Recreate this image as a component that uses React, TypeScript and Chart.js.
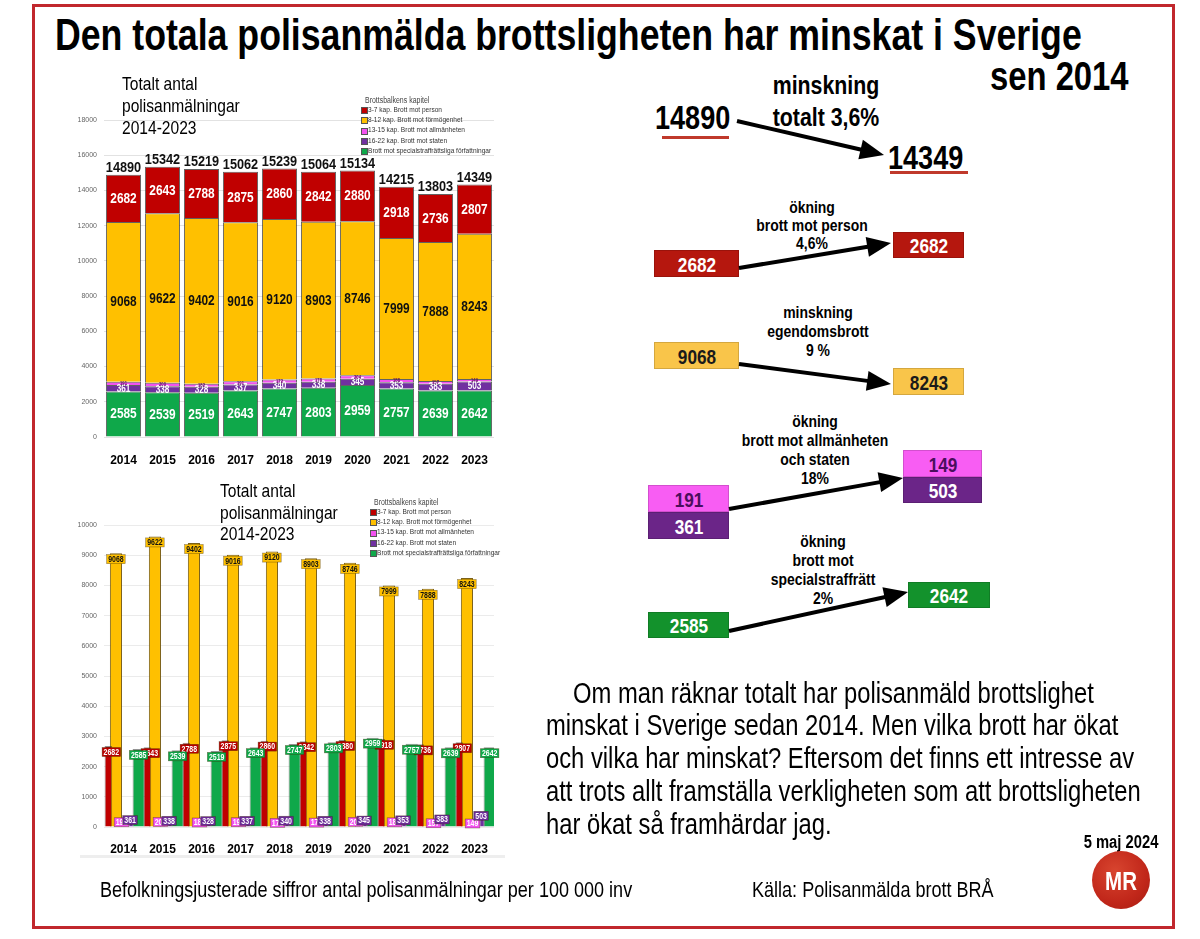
import React, { useEffect, useRef } from "react";
import { Chart, registerables } from "chart.js";

Chart.register(...registerables);

// ---------- data ----------
const years = ["2014", "2015", "2016", "2017", "2018", "2019", "2020", "2021", "2022", "2023"];
const personCrimes = [2682, 2643, 2788, 2875, 2860, 2842, 2880, 2918, 2736, 2807];
const propertyCrimes = [9068, 9622, 9402, 9016, 9120, 8903, 8746, 7999, 7888, 8243];
const publicCrimes = [191, 200, 182, 191, 172, 178, 204, 188, 157, 149];
const stateCrimes = [361, 338, 328, 337, 340, 338, 345, 353, 383, 503];
const specialCrimes = [2585, 2539, 2519, 2643, 2747, 2803, 2959, 2757, 2639, 2642];
const totals = [14890, 15342, 15219, 15062, 15239, 15064, 15134, 14215, 13803, 14349];
const seriesNames = [
  "3-7 kap. Brott mot person",
  "8-12 kap. Brott mot förmögenhet",
  "13-15 kap. Brott mot allmänheten",
  "16-22 kap. Brott mot staten",
  "Brott mot specialstraffrättsliga författningar",
];
const seriesColors = ["#C00000", "#FFC000", "#F252F0", "#7030A0", "#0FA84A"];
const legendTitle = "Brottsbalkens kapitel";
const stackedMax = 18000;
const stackedStep = 2000;
const groupedMax = 10000;
const groupedStep = 1000;

const SANS = '"Liberation Sans", Arial, Helvetica, sans-serif';
const NARROW = '"Liberation Sans Narrow", "Arial Narrow", "Liberation Sans", Arial, sans-serif';

// ---------- canvas helpers ----------
function narrowText(ctx: CanvasRenderingContext2D, text: string, x: number, y: number, font: string, color: string) {
  ctx.save();
  ctx.font = font;
  ctx.fillStyle = color;
  ctx.textAlign = "center";
  ctx.textBaseline = "middle";
  ctx.translate(x, y);
  ctx.scale(0.82, 1);
  ctx.fillText(text, 0, 0);
  ctx.restore();
}

// stacked order bottom -> top
const stackSeries = [
  { idx: 4, data: specialCrimes, size: 14.5, color: "#ffffff" },
  { idx: 3, data: stateCrimes, size: 10, color: "#ffffff" },
  { idx: 2, data: publicCrimes, size: 5, color: "#5a1060" },
  { idx: 1, data: propertyCrimes, size: 14.5, color: "#111111" },
  { idx: 0, data: personCrimes, size: 14.5, color: "#ffffff" },
];

const stackLabelPlugin = {
  id: "stackLabels",
  afterDatasetsDraw(chart: any) {
    const ctx = chart.ctx as CanvasRenderingContext2D;
    chart.data.datasets.forEach((ds: any, di: number) => {
      const meta = chart.getDatasetMeta(di);
      const st = stackSeries[di];
      meta.data.forEach((bar: any, i: number) => {
        const p = bar.getProps(["x", "y", "base"], true);
        narrowText(ctx, String(ds.data[i]), p.x, (p.y + p.base) / 2 + 0.5, `bold ${st.size}px ${SANS}`, st.color);
      });
    });
    const topMeta = chart.getDatasetMeta(chart.data.datasets.length - 1);
    topMeta.data.forEach((bar: any, i: number) => {
      narrowText(ctx, String(totals[i]), bar.x, bar.y - 7, `bold 15.5px ${SANS}`, "#111111");
    });
  },
};

const groupSeries = [
  { data: personCrimes, bp: 1.0, bg: "#B80000", fg: "#ffffff", dx: 3, dy: 6 },
  { data: propertyCrimes, bp: 1.6, bg: "#FFC000", fg: "#111111", dx: 0, dy: 6 },
  { data: publicCrimes, bp: 0.7, bg: "#F252F0", fg: "#ffffff", dx: -2, dy: 1 },
  { data: stateCrimes, bp: 0.7, bg: "#6A2A96", fg: "#ffffff", dx: -1, dy: 4 },
  { data: specialCrimes, bp: 1.6, bg: "#0FA84A", fg: "#ffffff", dx: 0, dy: 6 },
];

const groupLabelPlugin = {
  id: "groupLabels",
  afterDatasetsDraw(chart: any) {
    const ctx = chart.ctx as CanvasRenderingContext2D;
    chart.data.datasets.forEach((ds: any, di: number) => {
      const meta = chart.getDatasetMeta(di);
      const st = groupSeries[di];
      meta.data.forEach((bar: any, i: number) => {
        const text = String(ds.data[i]);
        const font = `bold 8.5px ${SANS}`;
        ctx.font = font;
        const tw = ctx.measureText(text).width * 0.82;
        const w = tw + 3;
        const h = 9;
        const cx = bar.x + st.dx;
        const cy = bar.y + st.dy;
        ctx.fillStyle = st.bg;
        ctx.fillRect(cx - w / 2, cy - h / 2, w, h);
        ctx.strokeStyle = "rgba(60,40,0,0.55)";
        ctx.lineWidth = 0.6;
        ctx.strokeRect(cx - w / 2, cy - h / 2, w, h);
        narrowText(ctx, text, cx, cy + 0.5, font, st.fg);
      });
    });
  },
};

const plainTick = (v: any) => String(v);

function buildStacked(canvas: HTMLCanvasElement) {
  return new Chart(canvas, {
    type: "bar",
    data: {
      labels: years,
      datasets: stackSeries.map((s) => ({
        label: seriesNames[s.idx],
        data: s.data,
        backgroundColor: seriesColors[s.idx],
        borderColor: "rgba(45,45,45,0.75)",
        borderWidth: 1,
      })),
    },
    options: {
      animation: false,
      responsive: false,
      layout: { padding: { left: 0, right: 16, top: 60, bottom: 0 } },
      plugins: { legend: { display: false }, tooltip: { enabled: false } },
      datasets: { bar: { categoryPercentage: 0.9, barPercentage: 1 } },
      scales: {
        x: {
          stacked: true,
          grid: { display: false },
          border: { display: false },
          ticks: { color: "#000", padding: 8, font: { family: NARROW, size: 12, weight: "bold" } },
          afterFit(s: any) { s.height = 33; },
        },
        y: {
          stacked: true,
          min: 0,
          max: stackedMax,
          ticks: { stepSize: stackedStep, color: "#666", padding: 7, font: { family: NARROW, size: 7 }, callback: plainTick },
          grid: { color: "#e2e2e2", drawTicks: false },
          border: { display: false },
          afterFit(s: any) { s.width = 44; },
        },
      },
    } as any,
    plugins: [stackLabelPlugin],
  });
}

function buildGrouped(canvas: HTMLCanvasElement) {
  return new Chart(canvas, {
    type: "bar",
    data: {
      labels: years,
      datasets: groupSeries.map((s, i) => ({
        label: seriesNames[i],
        data: s.data,
        backgroundColor: seriesColors[i],
        borderColor: i === 1 ? "rgba(110,80,0,0.9)" : "rgba(40,40,40,0.5)",
        borderWidth: 1,
        barPercentage: s.bp,
        categoryPercentage: 0.97,
      })),
    },
    options: {
      animation: false,
      responsive: false,
      layout: { padding: { left: 0, right: 16, top: 45, bottom: 0 } },
      plugins: { legend: { display: false }, tooltip: { enabled: false } },
      scales: {
        x: {
          grid: { display: false },
          border: { display: false },
          ticks: { color: "#000", padding: 7, font: { family: NARROW, size: 12, weight: "bold" } },
          afterFit(s: any) { s.height = 33; },
        },
        y: {
          min: 0,
          max: groupedMax,
          ticks: { stepSize: groupedStep, color: "#666", padding: 7, font: { family: NARROW, size: 7 }, callback: plainTick },
          grid: { color: "#ebebeb", drawTicks: false },
          border: { display: false },
          afterFit(s: any) { s.width = 44; },
        },
      },
    } as any,
    plugins: [groupLabelPlugin],
  });
}

function ChartCanvas(props: { build: (c: HTMLCanvasElement) => Chart; left: number; top: number; width: number; height: number }) {
  const ref = useRef<HTMLCanvasElement>(null);
  useEffect(() => {
    const chart = props.build(ref.current as HTMLCanvasElement);
    return () => chart.destroy();
  }, []);
  return (
    <canvas
      ref={ref}
      width={props.width}
      height={props.height}
      style={{ position: "absolute", left: props.left, top: props.top, width: props.width, height: props.height }}
    />
  );
}

// ---------- html helpers ----------
type TP = {
  x: number; y: number; size: number; children: React.ReactNode;
  bold?: boolean; color?: string; align?: "left" | "center" | "right"; sx?: number;
};
function T({ x, y, size, children, bold = false, color = "#000", align = "left", sx = 0.82 }: TP) {
  const shift = align === "left" ? "0" : align === "center" ? "-50%" : "-100%";
  const origin = align === "left" ? "left center" : align === "center" ? "center center" : "right center";
  return (
    <div
      style={{
        position: "absolute", left: x, top: y - size * 0.6, fontFamily: SANS, fontSize: size,
        lineHeight: `${size * 1.2}px`, fontWeight: bold ? 700 : 400, color, whiteSpace: "nowrap",
        transformOrigin: origin, transform: `translateX(${shift}) scaleX(${sx})`,
      }}
    >
      {children}
    </div>
  );
}

function Box(p: { x: number; y: number; w: number; h: number; bg: string; fg: string; text: string }) {
  return (
    <div style={{ position: "absolute", left: p.x, top: p.y, width: p.w, height: p.h, background: p.bg, boxShadow: "inset 0 0 0 1px rgba(0,0,0,0.15)" }}>
      <T x={p.w / 2} y={p.h / 2 + 1} size={21} bold color={p.fg} align="center">{p.text}</T>
    </div>
  );
}

function Arrow(p: { x1: number; y1: number; x2: number; y2: number }) {
  const dx = p.x2 - p.x1, dy = p.y2 - p.y1;
  const len = Math.hypot(dx, dy);
  const ux = dx / len, uy = dy / len;
  const hl = 24, hw = 10;
  const bx = p.x2 - ux * hl, by = p.y2 - uy * hl;
  const px = -uy, py = ux;
  return (
    <g>
      <line x1={p.x1} y1={p.y1} x2={bx + ux * 2} y2={by + uy * 2} stroke="#000" strokeWidth={4} />
      <polygon points={`${p.x2},${p.y2} ${bx + px * hw},${by + py * hw} ${bx - px * hw},${by - py * hw}`} fill="#000" />
    </g>
  );
}

function Legend(p: { x: number; y: number }) {
  return (
    <>
      <T x={p.x + 4} y={p.y} size={8.5} color="#444">{legendTitle}</T>
      {seriesNames.map((n, i) => (
        <React.Fragment key={n}>
          <div style={{ position: "absolute", left: p.x, top: p.y + 7 + i * 10.3, width: 5, height: 5, background: seriesColors[i], border: "0.5px solid #555" }} />
          <T x={p.x + 7} y={p.y + 9.5 + i * 10.3} size={8} color="#333">{n}</T>
        </React.Fragment>
      ))}
    </>
  );
}

const RED_BOX = "#B5170E";
const YELLOW_BOX = "#F9C54A";
const PINK_BOX = "#F85DF3";
const PURPLE_BOX = "#6B2588";
const GREEN_BOX = "#13922C";

export default function App() {
  return (
    <div style={{ position: "absolute", left: 0, top: 0, width: 1200, height: 939, background: "#fff", overflow: "hidden" }}>
      <div style={{ position: "absolute", left: 32, top: 4, width: 1137, height: 919, border: "3px solid #C1272D" }} />

      <T x={55} y={35} size={43.5} bold>Den totala polisanmälda brottsligheten har minskat i Sverige</T>
      <T x={990} y={76} size={40} bold>sen 2014</T>

      {/* top chart */}
      <ChartCanvas build={buildStacked} left={60} top={60} width={450} height={410} />
      <T x={122} y={84} size={19}>Totalt antal</T>
      <T x={122} y={106} size={19}>polisanmälningar</T>
      <T x={122} y={128} size={19}>2014-2023</T>
      <Legend x={361} y={100} />

      {/* bottom chart */}
      <ChartCanvas build={buildGrouped} left={60} top={480} width={450} height={380} />
      <div style={{ position: "absolute", left: 80, top: 855, width: 425, height: 3, background: "#eeeeee" }} />
      <T x={220} y={491} size={19}>Totalt antal</T>
      <T x={220} y={513} size={19}>polisanmälningar</T>
      <T x={220} y={534} size={19}>2014-2023</T>
      <Legend x={370} y={502} />

      {/* right panel */}
      <T x={655} y={118} size={33} bold>{String(totals[0])}</T>
      <div style={{ position: "absolute", left: 662, top: 136, width: 67, height: 3, background: "#C0392B" }} />
      <T x={826} y={86} size={26} bold align="center">minskning</T>
      <T x={826} y={118} size={26} bold align="center">totalt 3,6%</T>
      <T x={888} y={158} size={33} bold>{String(totals[9])}</T>
      <div style={{ position: "absolute", left: 890, top: 171, width: 78, height: 3, background: "#C0392B" }} />

      <T x={812} y={208} size={17} bold align="center">ökning</T>
      <T x={812} y={226} size={17} bold align="center">brott mot person</T>
      <T x={812} y={244} size={17} bold align="center">4,6%</T>
      <Box x={654} y={250} w={85} h={27} bg={RED_BOX} fg="#fff" text="2682" />
      <Box x={893} y={232} w={71} h={26} bg={RED_BOX} fg="#fff" text="2682" />

      <T x={818} y={313} size={17} bold align="center">minskning</T>
      <T x={818} y={332} size={17} bold align="center">egendomsbrott</T>
      <T x={818} y={351} size={17} bold align="center">9 %</T>
      <Box x={654} y={342} w={85} h={27} bg={YELLOW_BOX} fg="#1a1a1a" text="9068" />
      <Box x={893} y={368} w={71} h={27} bg={YELLOW_BOX} fg="#1a1a1a" text="8243" />

      <T x={815} y={422} size={17} bold align="center">ökning</T>
      <T x={815} y={441} size={17} bold align="center">brott mot allmänheten</T>
      <T x={815} y={460} size={17} bold align="center">och staten</T>
      <T x={815} y={479} size={17} bold align="center">18%</T>
      <Box x={648} y={485} w={81} h={27} bg={PINK_BOX} fg="#4A0E5C" text="191" />
      <Box x={648} y={512} w={81} h={27} bg={PURPLE_BOX} fg="#fff" text="361" />
      <Box x={903} y={450} w={79} h={27} bg={PINK_BOX} fg="#4A0E5C" text="149" />
      <Box x={903} y={477} w={79} h={26} bg={PURPLE_BOX} fg="#fff" text="503" />

      <T x={823} y={542} size={17} bold align="center">ökning</T>
      <T x={823} y={561} size={17} bold align="center">brott mot</T>
      <T x={823} y={580} size={17} bold align="center">specialstraffrätt</T>
      <T x={823} y={599} size={17} bold align="center">2%</T>
      <Box x={648} y={612} w={81} h={26} bg={GREEN_BOX} fg="#fff" text="2585" />
      <Box x={908} y={582} w={82} h={26} bg={GREEN_BOX} fg="#fff" text="2642" />

      <svg width={1200} height={939} style={{ position: "absolute", left: 0, top: 0, pointerEvents: "none" }}>
        <Arrow x1={737} y1={121} x2={884} y2={155} />
        <Arrow x1={739} y1={268} x2={891} y2={243} />
        <Arrow x1={739} y1={364} x2={891} y2={384} />
        <Arrow x1={729} y1={509} x2={903} y2={478} />
        <Arrow x1={729} y1={631} x2={908} y2={592} />
      </svg>

      {/* paragraph */}
      <T x={573} y={693} size={29}>Om man räknar totalt har polisanmäld brottslighet</T>
      <T x={546} y={725} size={29}>minskat i Sverige sedan 2014. Men vilka brott har ökat</T>
      <T x={546} y={758} size={29}>och vilka har minskat? Eftersom det finns ett intresse av</T>
      <T x={546} y={791} size={29}>att trots allt framställa verkligheten som att brottsligheten</T>
      <T x={546} y={824} size={29}>har ökat så framhärdar jag.</T>

      <T x={1121} y={843} size={18} bold align="center">5 maj 2024</T>
      <div
        style={{
          position: "absolute", left: 1092, top: 851, width: 58, height: 58, borderRadius: "50%",
          background: "radial-gradient(circle at 40% 35%, #D8452F 0%, #C1271A 60%, #A51B10 100%)",
        }}
      >
        <T x={29} y={30} size={25} bold color="#fff" align="center">MR</T>
      </div>

      <T x={100} y={890} size={22}>Befolkningsjusterade siffror antal polisanmälningar per 100 000 inv</T>
      <T x={752} y={890} size={22}>Källa: Polisanmälda brott BRÅ</T>
    </div>
  );
}
